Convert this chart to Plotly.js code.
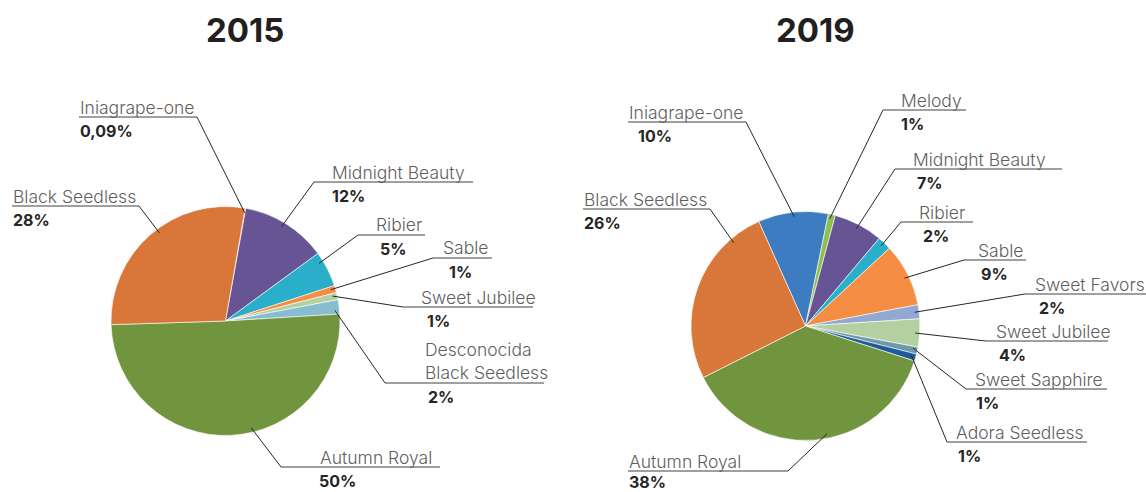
<!DOCTYPE html>
<html>
<head>
<meta charset="utf-8">
<script src="https://cdn.plot.ly/plotly-3.0.1.min.js"></script>
<style>
  html, body { margin: 0; padding: 0; background: #fff; }
  #chart { width: 1146px; height: 492px; }
</style>
</head>
<body>
<div id="chart"></div>
<script>
// 2015 varieties (clockwise from top)
const labels2015 = ["Iniagrape-one", "Midnight Beauty", "Ribier", "Sable", "Sweet Jubilee",
  "Desconocida<br>Black Seedless", "Autumn Royal", "Black Seedless"];
const values2015 = [0.09, 12, 5, 1, 1, 2, 50, 28];
const colors2015 = ["#4f86c6", "#675494", "#2aafcb", "#f58d42", "#b5d0a0", "#86bdd0", "#71943f", "#d9773a"];

// 2019 varieties (clockwise from top)
const labels2019 = ["Iniagrape-one", "Melody", "Midnight Beauty", "Ribier", "Sable", "Sweet Favors",
  "Sweet Jubilee", "Sweet Sapphire", "Adora Seedless", "Autumn Royal", "Black Seedless"];
const values2019 = [10, 1, 7, 2, 9, 2, 4, 1, 1, 38, 26];
const colors2019 = ["#3d7cc0", "#8cc152", "#675494", "#2aafcb", "#f58d42", "#91a9d2",
  "#b5d0a0", "#6d9aa6", "#1f5a9a", "#71943f", "#d9773a"];

const W = 1146, H = 492;
const px = x => x / W;
const py = y => 1 - y / H;

// pie placement (pixels) and label boxes: [underline x0, x1, y, elbow side, text x, pct x, anchor frac]
const pies = [
  { title: "2015", tx: 245, labels: labels2015, values: values2015, colors: colors2015,
    cx: 225.5, cy: 321, r: 114.5, rot: 9.9,
    boxes: [
      [79, 197, 117, "r", 79, 79, 0.5],
      [314, 473, 182, "l", 331, 331, 0.47],
      [358, 425, 235, "l", 375, 379, 0.25],
      [433, 492, 258, "l", 442, 448, 0.4],
      [403, 533, 307, "l", 420, 426, 0.35],
      [385, 544, 383, "l", 424, 427, 0.72],
      [281, 440, 467, "l", 319, 318, 0.44],
      [12, 139, 206, "r", 12, 12, 0.54]
    ] },
  { title: "2019", tx: 815, labels: labels2019, values: values2019, colors: colors2019,
    cx: 805.5, cy: 326, r: 114.5, rot: -24.1,
    boxes: [
      [628, 746, 122, "r", 628, 637, 0.51],
      [883, 966, 110, "l", 900, 900, 0.33],
      [895, 1062, 169, "l", 912, 916, 0.5],
      [901, 973, 222, "l", 918, 922, 0.46],
      [964, 1026, 260, "l", 977, 980, 0.53],
      [1025, 1146, 294, "l", 1034, 1038, 0.5],
      [986, 1108, 341, "l", 995, 998, 0.51],
      [966, 1107, 389, "l", 974, 975, 0.28],
      [947, 1087, 442, "l", 955, 957, 0.37],
      [628, 788, 471, "r", 628, 628, 0.45],
      [583, 710, 209, "r", 583, 583, 0.82]
    ] }
];

const FONT = "Inter, Lato, 'Open Sans', sans-serif";
const traces = [], annotations = [], shapes = [];

function pctText(v) {
  return (Number.isInteger(v) ? String(v) : String(v).replace(".", ",")) + "%";
}

pies.forEach(p => {
  traces.push({
    type: "pie", labels: p.labels, values: p.values, sort: false,
    direction: "clockwise", rotation: p.rot, textinfo: "none",
    marker: { colors: p.colors, line: { color: "#ffffff", width: 0.6 } },
    domain: { x: [px(p.cx - p.r), px(p.cx + p.r)], y: [py(p.cy + p.r), py(p.cy - p.r)] },
    hoverinfo: "label+percent", showlegend: false
  });

  annotations.push({
    xref: "paper", yref: "paper", x: px(p.tx), y: py(30), xanchor: "center", yanchor: "middle",
    text: p.title, showarrow: false,
    font: { family: FONT, size: 33, weight: 700, color: "#231f20" }
  });

  const total = p.values.reduce((a, b) => a + b, 0);
  let cum = 0;
  p.values.forEach((v, i) => {
    const a0 = p.rot + cum / total * 360;
    const a1 = p.rot + (cum + v) / total * 360;
    cum += v;
    const [ux0, ux1, uy, side, tx, pctx, frac] = p.boxes[i];
    const ang = (a0 + frac * (a1 - a0)) * Math.PI / 180;
    const ax = p.cx + 0.96 * p.r * Math.sin(ang);
    const ay = p.cy - 0.96 * p.r * Math.cos(ang);
    const ex = side === "l" ? ux0 : ux1;

    shapes.push({ type: "line", xref: "paper", yref: "paper",
      x0: px(ax), y0: py(ay), x1: px(ex), y1: py(uy), line: { color: "#262626", width: 1 } });
    shapes.push({ type: "line", xref: "paper", yref: "paper",
      x0: px(ux0), y0: py(uy), x1: px(ux1), y1: py(uy), line: { color: "#404040", width: 1 } });

    const nLines = p.labels[i].split("<br>").length;
    annotations.push({
      xref: "paper", yref: "paper", x: px(tx), y: py(uy - 10 - (nLines - 1) * 12.5),
      xanchor: "left", yanchor: "middle", align: "left", showarrow: false, borderpad: 0,
      text: p.labels[i], font: { family: FONT, size: 17.5, weight: 300, color: "#5f5f5f" }
    });
    annotations.push({
      xref: "paper", yref: "paper", x: px(pctx), y: py(Math.min(uy + 14, 482)),
      xanchor: "left", yanchor: "middle", showarrow: false, borderpad: 0,
      text: pctText(v), font: { family: FONT, size: 16, weight: 700, color: "#262626" }
    });
  });
});

const layout = {
  width: W, height: H,
  margin: { l: 0, r: 0, t: 0, b: 0 },
  paper_bgcolor: "white", plot_bgcolor: "white",
  showlegend: false,
  annotations: annotations,
  shapes: shapes
};

Plotly.newPlot("chart", traces, layout, { displayModeBar: false });
</script>
</body>
</html>
